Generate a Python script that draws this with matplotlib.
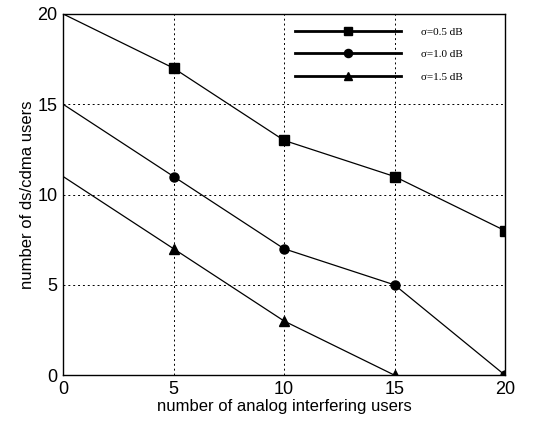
import matplotlib
matplotlib.use("Agg")
import matplotlib.pyplot as plt

plt.rcParams["font.family"] = ["Liberation Sans", "DejaVu Sans"]

# data
analog_users = [0, 5, 10, 15, 20]
users_s05 = [20, 17, 13, 11, 8]
users_s10 = [15, 11, 7, 5, 0]
analog_users_s15 = [0, 5, 10, 15]
users_s15 = [11, 7, 3, 0]
labels = ["σ=0.5 dB", "σ=1.0 dB", "σ=1.5 dB"]

fig = plt.figure(figsize=(5.35, 4.23), dpi=100)
ax = fig.add_axes([0.118, 0.113, 0.826, 0.854])

series = [
    (analog_users, users_s05, "s"),
    (analog_users, users_s10, "o"),
    (analog_users_s15, users_s15, "^"),
]
for (x, y, m), lab in zip(series, labels):
    # no marker drawn at the x=0 end
    ax.plot(x, y, color="black", lw=0.9, marker=m, markersize=6.5,
            markevery=slice(1, None), label=lab)

ax.set_xlim(0, 20)
ax.set_ylim(0, 20)
ax.set_xticks([0, 5, 10, 15, 20])
ax.set_yticks([0, 5, 10, 15, 20])
ax.grid(True, color="black", linestyle=(0, (2, 3)), lw=0.7)
ax.tick_params(labelsize=13, length=0, pad=4)
for s in ax.spines.values():
    s.set_linewidth(1.0)

ax.set_xlabel("number of analog interfering users", fontsize=12, labelpad=1)
ax.set_ylabel("number of ds/cdma users", fontsize=12, labelpad=2)

leg = ax.legend(loc="upper left", bbox_to_anchor=(0.525, 0.963), frameon=False,
                handlelength=9.5, labelspacing=1.12, handletextpad=1.8,
                borderaxespad=0, borderpad=0, markerscale=0.9,
                prop={"family": "Liberation Serif", "size": 8})
for h in leg.legend_handles:
    h.set_linewidth(2)

fig.savefig("out.png", dpi=100)
